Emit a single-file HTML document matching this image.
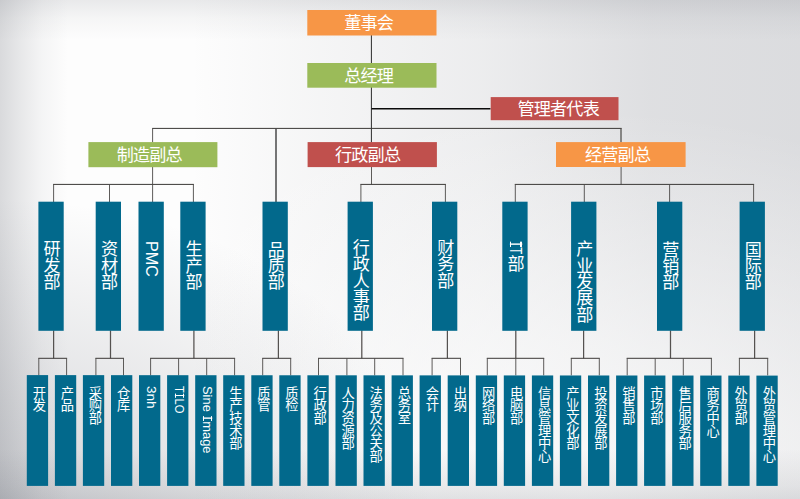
<!DOCTYPE html>
<html lang="zh-CN">
<head>
<meta charset="utf-8">
<title>组织架构图</title>
<style>
html,body{margin:0;padding:0;}
body{width:800px;height:499px;overflow:hidden;background:#e6e7e9;font-family:"Liberation Sans",sans-serif;}
#page{position:relative;width:800px;height:499px;overflow:hidden;
 background:
  linear-gradient(to right, rgba(96,100,110,.23) 0px, rgba(96,100,110,.14) 20px, rgba(96,100,110,.055) 42px, rgba(96,100,110,0) 68px),
  linear-gradient(to bottom, rgba(96,100,110,.13) 0px, rgba(96,100,110,.05) 18px, rgba(96,100,110,0) 40px),
  linear-gradient(to top, rgba(96,100,110,.16) 0px, rgba(96,100,110,.10) 13px, rgba(96,100,110,0) 50px),
  radial-gradient(ellipse 430px 300px at 0px 499px, rgba(96,100,112,.27) 0%, rgba(96,100,112,.13) 50%, rgba(96,100,112,0) 100%),
  radial-gradient(ellipse 580px 390px at 580px 499px, rgba(253,253,253,.85) 0%, rgba(253,253,253,.6) 40%, rgba(253,253,253,0) 100%),
  linear-gradient(to right, rgba(96,100,112,0) 190px, rgba(96,100,112,.05) 320px, rgba(96,100,112,.105) 480px, rgba(96,100,112,.195) 650px, rgba(96,100,112,.215) 800px),
  #fdfdfd;
}
#art{position:absolute;left:0;top:0;width:800px;height:499px;}
#labels text{font-family:"Liberation Sans","Noto Sans CJK SC",sans-serif;fill:#fff;}
.t{position:absolute;box-sizing:border-box;color:#fff;white-space:nowrap;overflow:hidden;}
.t.h{text-align:left;}
.t.v{writing-mode:vertical-rl;text-orientation:mixed;text-align:left;}
.la{color:#fff;display:inline-block;position:relative;transform-origin:50% 0;font-kerning:none;}
.sI{position:relative;}
.sI::before,.sI::after{content:"";position:absolute;background:#fff;top:0.04em;height:var(--w);width:0.078em;}
.sI::before{left:0.212em;}
.sI::after{left:0.822em;}
</style>
</head>
<body>
<div id="page">
<svg id="art" width="800" height="499" viewBox="0 0 800 499">
<g id="lines" fill="none">
<line x1="371.4" y1="35.0" x2="371.4" y2="63.0" stroke="#2c2c2c" stroke-width="1.0"/>
<line x1="371.4" y1="87.0" x2="371.4" y2="142.5" stroke="#2c2c2c" stroke-width="1.0"/>
<line x1="371.5" y1="108.7" x2="490.5" y2="108.7" stroke="#0a0a0a" stroke-width="1.5"/>
<line x1="152.2" y1="128.4" x2="621.6" y2="128.4" stroke="#3b3836" stroke-width="1.0"/>
<line x1="152.6" y1="128.3" x2="152.6" y2="142.5" stroke="#4c4947" stroke-width="0.9"/>
<line x1="621.0" y1="128.3" x2="621.0" y2="142.5" stroke="#4f4d4b" stroke-width="1.25"/>
<line x1="276.0" y1="128.3" x2="276.0" y2="202.0" stroke="#4a4a4a" stroke-width="1.5"/>
<line x1="152.6" y1="166.5" x2="152.6" y2="184.4" stroke="#4c4947" stroke-width="0.9"/>
<line x1="53.1" y1="184.4" x2="193.9" y2="184.4" stroke="#3b3836" stroke-width="1.0"/>
<line x1="53.6" y1="184.4" x2="53.6" y2="202.0" stroke="#4c4947" stroke-width="0.9"/>
<line x1="109.5" y1="184.4" x2="109.5" y2="202.0" stroke="#4c4947" stroke-width="0.9"/>
<line x1="152.6" y1="184.4" x2="152.6" y2="202.0" stroke="#4c4947" stroke-width="0.9"/>
<line x1="193.4" y1="184.4" x2="193.4" y2="202.0" stroke="#4c4947" stroke-width="0.9"/>
<line x1="371.5" y1="166.5" x2="371.5" y2="184.4" stroke="#4c4947" stroke-width="0.9"/>
<line x1="360.4" y1="184.4" x2="445.9" y2="184.4" stroke="#3b3836" stroke-width="1.0"/>
<line x1="360.9" y1="184.4" x2="360.9" y2="202.0" stroke="#4c4947" stroke-width="0.9"/>
<line x1="445.4" y1="184.4" x2="445.4" y2="202.0" stroke="#4c4947" stroke-width="0.9"/>
<line x1="621.1" y1="166.5" x2="621.1" y2="184.4" stroke="#4c4947" stroke-width="0.9"/>
<line x1="514.8" y1="184.4" x2="754.1" y2="184.4" stroke="#3b3836" stroke-width="1.0"/>
<line x1="515.3" y1="184.4" x2="515.3" y2="202.0" stroke="#4c4947" stroke-width="0.9"/>
<line x1="584.3" y1="184.4" x2="584.3" y2="202.0" stroke="#4c4947" stroke-width="0.9"/>
<line x1="669.6" y1="184.4" x2="669.6" y2="202.0" stroke="#4c4947" stroke-width="0.9"/>
<line x1="753.6" y1="184.4" x2="753.6" y2="202.0" stroke="#4c4947" stroke-width="0.9"/>
<line x1="53.6" y1="330.3" x2="53.6" y2="358.3" stroke="#555250" stroke-width="1.25"/>
<line x1="38.3" y1="358.3" x2="67.1" y2="358.3" stroke="#3b3836" stroke-width="1.0"/>
<line x1="38.8" y1="358.3" x2="38.8" y2="375.4" stroke="#4c4947" stroke-width="0.9"/>
<line x1="66.6" y1="358.3" x2="66.6" y2="375.4" stroke="#4c4947" stroke-width="0.9"/>
<line x1="110.5" y1="330.3" x2="110.5" y2="358.3" stroke="#555250" stroke-width="1.25"/>
<line x1="95.4" y1="358.3" x2="124.0" y2="358.3" stroke="#3b3836" stroke-width="1.0"/>
<line x1="95.9" y1="358.3" x2="95.9" y2="375.4" stroke="#4c4947" stroke-width="0.9"/>
<line x1="123.5" y1="358.3" x2="123.5" y2="375.4" stroke="#4c4947" stroke-width="0.9"/>
<line x1="193.9" y1="330.3" x2="193.9" y2="358.3" stroke="#555250" stroke-width="1.25"/>
<line x1="150.1" y1="358.3" x2="235.1" y2="358.3" stroke="#3b3836" stroke-width="1.0"/>
<line x1="150.6" y1="358.3" x2="150.6" y2="375.4" stroke="#4c4947" stroke-width="0.9"/>
<line x1="178.6" y1="358.3" x2="178.6" y2="375.4" stroke="#4c4947" stroke-width="0.9"/>
<line x1="206.7" y1="358.3" x2="206.7" y2="375.4" stroke="#4c4947" stroke-width="0.9"/>
<line x1="234.6" y1="358.3" x2="234.6" y2="375.4" stroke="#4c4947" stroke-width="0.9"/>
<line x1="278.4" y1="330.3" x2="278.4" y2="358.3" stroke="#555250" stroke-width="1.25"/>
<line x1="262.2" y1="358.3" x2="291.2" y2="358.3" stroke="#3b3836" stroke-width="1.0"/>
<line x1="262.7" y1="358.3" x2="262.7" y2="375.4" stroke="#4c4947" stroke-width="0.9"/>
<line x1="290.7" y1="358.3" x2="290.7" y2="375.4" stroke="#4c4947" stroke-width="0.9"/>
<line x1="361.8" y1="330.3" x2="361.8" y2="358.3" stroke="#555250" stroke-width="1.25"/>
<line x1="318.0" y1="358.3" x2="403.5" y2="358.3" stroke="#3b3836" stroke-width="1.0"/>
<line x1="318.5" y1="358.3" x2="318.5" y2="375.4" stroke="#4c4947" stroke-width="0.9"/>
<line x1="346.9" y1="358.3" x2="346.9" y2="375.4" stroke="#4c4947" stroke-width="0.9"/>
<line x1="374.7" y1="358.3" x2="374.7" y2="375.4" stroke="#4c4947" stroke-width="0.9"/>
<line x1="403.0" y1="358.3" x2="403.0" y2="375.4" stroke="#4c4947" stroke-width="0.9"/>
<line x1="447.4" y1="330.3" x2="447.4" y2="358.3" stroke="#555250" stroke-width="1.25"/>
<line x1="431.6" y1="358.3" x2="461.0" y2="358.3" stroke="#3b3836" stroke-width="1.0"/>
<line x1="432.1" y1="358.3" x2="432.1" y2="375.4" stroke="#4c4947" stroke-width="0.9"/>
<line x1="460.5" y1="358.3" x2="460.5" y2="375.4" stroke="#4c4947" stroke-width="0.9"/>
<line x1="515.8" y1="330.3" x2="515.8" y2="358.3" stroke="#555250" stroke-width="1.25"/>
<line x1="486.8" y1="358.3" x2="544.2" y2="358.3" stroke="#3b3836" stroke-width="1.0"/>
<line x1="487.3" y1="358.3" x2="487.3" y2="375.4" stroke="#4c4947" stroke-width="0.9"/>
<line x1="515.8" y1="358.3" x2="515.8" y2="375.4" stroke="#4c4947" stroke-width="0.9"/>
<line x1="543.7" y1="358.3" x2="543.7" y2="375.4" stroke="#4c4947" stroke-width="0.9"/>
<line x1="583.6" y1="330.3" x2="583.6" y2="358.3" stroke="#555250" stroke-width="1.25"/>
<line x1="570.8" y1="358.3" x2="599.8" y2="358.3" stroke="#3b3836" stroke-width="1.0"/>
<line x1="571.3" y1="358.3" x2="571.3" y2="375.4" stroke="#4c4947" stroke-width="0.9"/>
<line x1="599.3" y1="358.3" x2="599.3" y2="375.4" stroke="#4c4947" stroke-width="0.9"/>
<line x1="670.5" y1="330.3" x2="670.5" y2="358.3" stroke="#555250" stroke-width="1.25"/>
<line x1="626.7" y1="358.3" x2="711.9" y2="358.3" stroke="#3b3836" stroke-width="1.0"/>
<line x1="627.2" y1="358.3" x2="627.2" y2="375.4" stroke="#4c4947" stroke-width="0.9"/>
<line x1="655.2" y1="358.3" x2="655.2" y2="375.4" stroke="#4c4947" stroke-width="0.9"/>
<line x1="683.3" y1="358.3" x2="683.3" y2="375.4" stroke="#4c4947" stroke-width="0.9"/>
<line x1="711.4" y1="358.3" x2="711.4" y2="375.4" stroke="#4c4947" stroke-width="0.9"/>
<line x1="754.6" y1="330.3" x2="754.6" y2="358.3" stroke="#555250" stroke-width="1.25"/>
<line x1="738.9" y1="358.3" x2="768.2" y2="358.3" stroke="#3b3836" stroke-width="1.0"/>
<line x1="739.4" y1="358.3" x2="739.4" y2="375.4" stroke="#4c4947" stroke-width="0.9"/>
<line x1="767.7" y1="358.3" x2="767.7" y2="375.4" stroke="#4c4947" stroke-width="0.9"/>
</g>
<g id="boxes">
<rect x="307.3" y="10.0" width="129.2" height="25.5" fill="#F79646"/>
<rect x="307.3" y="63.0" width="129.2" height="24.7" fill="#9BBB59"/>
<rect x="490.7" y="97.1" width="127.8" height="23.1" fill="#C0504D"/>
<rect x="88.4" y="142.1" width="129.0" height="25.1" fill="#9BBB59"/>
<rect x="307.6" y="142.1" width="129.3" height="25.0" fill="#C0504D"/>
<rect x="556.0" y="142.1" width="129.6" height="24.9" fill="#F79646"/>
<rect x="38.4" y="201.7" width="25.3" height="129.1" fill="#02698C"/>
<rect x="95.7" y="201.7" width="25.3" height="129.1" fill="#02698C"/>
<rect x="138.5" y="201.7" width="25.3" height="129.1" fill="#02698C"/>
<rect x="180.3" y="201.7" width="25.3" height="129.1" fill="#02698C"/>
<rect x="262.5" y="201.7" width="25.3" height="129.1" fill="#02698C"/>
<rect x="347.6" y="201.7" width="25.3" height="129.1" fill="#02698C"/>
<rect x="432.0" y="201.7" width="25.3" height="129.1" fill="#02698C"/>
<rect x="502.3" y="201.7" width="25.3" height="129.1" fill="#02698C"/>
<rect x="571.1" y="201.7" width="25.3" height="129.1" fill="#02698C"/>
<rect x="657.0" y="201.7" width="25.3" height="129.1" fill="#02698C"/>
<rect x="739.6" y="201.7" width="25.3" height="129.1" fill="#02698C"/>
<rect x="26.8" y="375.10" width="21.3" height="110.80" fill="#02698C"/>
<rect x="54.9" y="375.12" width="21.3" height="110.78" fill="#02698C"/>
<rect x="82.9" y="375.14" width="21.3" height="110.76" fill="#02698C"/>
<rect x="111.0" y="375.16" width="21.3" height="110.74" fill="#02698C"/>
<rect x="139.0" y="375.18" width="21.3" height="110.72" fill="#02698C"/>
<rect x="167.1" y="375.20" width="21.3" height="110.70" fill="#02698C"/>
<rect x="195.2" y="375.22" width="21.3" height="110.68" fill="#02698C"/>
<rect x="223.2" y="375.23" width="21.3" height="110.67" fill="#02698C"/>
<rect x="251.3" y="375.25" width="21.3" height="110.65" fill="#02698C"/>
<rect x="279.3" y="375.27" width="21.3" height="110.63" fill="#02698C"/>
<rect x="307.4" y="375.29" width="21.3" height="110.61" fill="#02698C"/>
<rect x="335.5" y="375.31" width="21.3" height="110.59" fill="#02698C"/>
<rect x="363.5" y="375.33" width="21.3" height="110.57" fill="#02698C"/>
<rect x="391.6" y="375.35" width="21.3" height="110.55" fill="#02698C"/>
<rect x="419.6" y="375.37" width="21.3" height="110.53" fill="#02698C"/>
<rect x="447.7" y="375.39" width="21.3" height="110.51" fill="#02698C"/>
<rect x="475.8" y="375.41" width="21.3" height="110.49" fill="#02698C"/>
<rect x="503.8" y="375.43" width="21.3" height="110.47" fill="#02698C"/>
<rect x="531.9" y="375.45" width="21.3" height="110.45" fill="#02698C"/>
<rect x="559.9" y="375.47" width="21.3" height="110.43" fill="#02698C"/>
<rect x="588.0" y="375.48" width="21.3" height="110.42" fill="#02698C"/>
<rect x="616.1" y="375.50" width="21.3" height="110.40" fill="#02698C"/>
<rect x="644.1" y="375.52" width="21.3" height="110.38" fill="#02698C"/>
<rect x="672.2" y="375.54" width="21.3" height="110.36" fill="#02698C"/>
<rect x="700.2" y="375.56" width="21.3" height="110.34" fill="#02698C"/>
<rect x="728.3" y="375.58" width="21.3" height="110.32" fill="#02698C"/>
<rect x="756.4" y="375.60" width="21.3" height="110.30" fill="#02698C"/>
</g>
<g id="labels" fill="#fff">
<g font-size="17.12">
<text x="344.14 360.44 376.74" y="29.10">董事会</text>
<text x="344.14 360.44 376.74" y="81.85">总经理</text>
<text x="517.44 533.74 550.04 566.34 582.64" y="114.85">管理者代表</text>
<text x="116.69 132.99 149.29 165.59" y="161.00">制造副总</text>
<text x="334.99 351.29 367.59 383.89" y="161.00">行政副总</text>
<text x="584.99 601.29 617.59 633.89" y="161.00">经营副总</text>
<text x="43.59 43.59 43.59" y="255.35 271.65 287.95">研发部</text>
<text x="100.89 100.89 100.89" y="255.35 271.65 287.95">资材部</text>
<text x="185.49 185.49 185.49" y="255.35 271.65 287.95">生产部</text>
<text x="267.69 267.69 267.69" y="255.55 271.85 288.15">品质部</text>
<text x="352.79 352.79 352.79 352.79 352.79" y="254.05 270.35 286.65 302.95 319.25">行政人事部</text>
<text x="437.19 437.19 437.19" y="254.15 270.45 286.75">财务部</text>
<text x="507.49" y="269.85">部</text>
<text x="576.29 576.29 576.29 576.29 576.29" y="255.35 271.65 287.95 304.25 320.55">产业发展部</text>
<text x="662.19 662.19 662.19" y="255.75 272.05 288.35">营销部</text>
<text x="744.79 744.79 744.79" y="255.75 272.05 288.35">国际部</text>
</g>
<g font-size="13.31">
<text x="32.69 32.69" y="397.60 410.28">开发</text>
<text x="60.77 60.77" y="397.60 410.28">产品</text>
<text x="88.84 88.84 88.84" y="397.60 410.28 422.96">采购部</text>
<text x="116.92 116.92" y="397.60 410.28">仓库</text>
<text x="229.22 229.22 229.22 229.22 229.22" y="397.60 410.28 422.96 435.64 448.32">生产技术部</text>
<text x="257.30 257.30" y="397.60 410.28">质管</text>
<text x="285.37 285.37" y="397.60 410.28">质检</text>
<text x="313.45 313.45 313.45" y="397.60 410.28 422.96">行政部</text>
<text x="341.52 341.52 341.52 341.52 341.52" y="397.60 410.28 422.96 435.64 448.32">人力资源部</text>
<text x="369.60 369.60 369.60 369.60 369.60 369.60" y="397.60 410.28 422.96 435.64 448.32 461.00">法务及公关部</text>
<text x="397.67 397.67 397.67" y="397.60 410.28 422.96">总务室</text>
<text x="425.75 425.75" y="397.60 410.28">会计</text>
<text x="453.82 453.82" y="397.60 410.28">出纳</text>
<text x="481.90 481.90 481.90" y="397.60 410.28 422.96">网络部</text>
<text x="509.97 509.97 509.97" y="397.60 410.28 422.96">电脑部</text>
<text x="538.05 538.05 538.05 538.05 538.05 538.05" y="397.60 410.28 422.96 435.64 448.32 461.00">信息管理中心</text>
<text x="566.13 566.13 566.13 566.13 566.13" y="397.60 410.28 422.96 435.64 448.32">产业文化部</text>
<text x="594.20 594.20 594.20 594.20 594.20" y="397.60 410.28 422.96 435.64 448.32">投资发展部</text>
<text x="622.28 622.28 622.28" y="397.60 410.28 422.96">销售部</text>
<text x="650.35 650.35 650.35" y="397.60 410.28 422.96">市场部</text>
<text x="678.43 678.43 678.43 678.43 678.43" y="397.60 410.28 422.96 435.64 448.32">售后服务部</text>
<text x="706.50 706.50 706.50 706.50" y="397.60 410.28 422.96 435.64">商务中心</text>
<text x="734.58 734.58 734.58" y="397.60 410.28 422.96">外贸部</text>
<text x="762.65 762.65 762.65 762.65 762.65 762.65" y="397.60 410.28 422.96 435.64 448.32 461.00">外贸管理中心</text>
</g>
</g>
</svg>
<div class="t v" style="left:138.5px;top:201.7px;width:25.3px;height:129.1px;padding-top:39.07px;font-size:16.3px;line-height:25.3px"><span class="la" style="font-size:17.3px;transform:scaleY(0.9350);margin-bottom:-2.50px;left:0.4px">PMC</span></div>
<div class="t v" style="left:502.3px;top:201.7px;width:25.3px;height:129.1px;padding-top:39.24px;font-size:16.3px;line-height:25.3px"><span class="la" style="font-size:17.3px;transform:scaleY(0.6642);margin-bottom:-6.69px;left:0.6px"><span class="sI" style="--w:0.46em;padding:0.131em 0">I</span>T</span></div>
<div class="t v" style="left:139.0px;top:375.1px;width:21.3px;height:110.8px;padding-top:10.98px;font-size:12.68px;line-height:21.3px"><span class="la" style="font-size:13.3px;transform:scaleY(1.0182);margin-bottom:0.40px;left:1.3px">3nh</span></div>
<div class="t v" style="left:167.1px;top:375.1px;width:21.3px;height:110.8px;padding-top:10.95px;font-size:12.68px;line-height:21.3px"><span class="la" style="font-size:13.3px;transform:scaleY(0.8419);margin-bottom:-5.16px;left:1.8px">T<span class="sI" style="--w:0.43em;padding:0.116em 0">I</span>LO</span></div>
<div class="t v" style="left:195.2px;top:375.1px;width:21.3px;height:110.8px;padding-top:10.51px;font-size:12.68px;line-height:21.3px"><span class="la" style="font-size:13.3px;transform:scaleY(0.9711);margin-bottom:-2.01px;left:1.7px">Sine <span class="sI" style="--w:0.37em;padding:0.086em 0">I</span>mage</span></div>
</div>
</body>
</html>
